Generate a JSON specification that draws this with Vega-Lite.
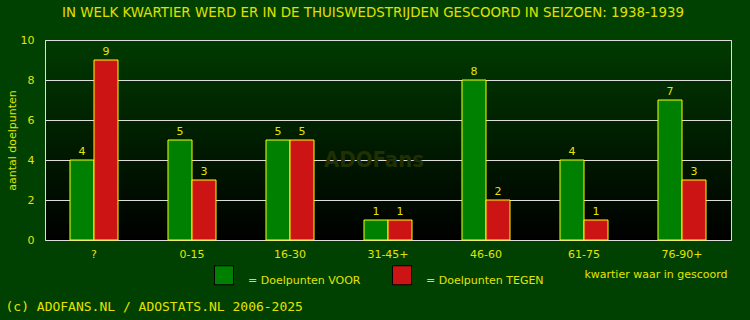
{
  "$schema": "https://vega.github.io/schema/vega-lite/v6.json",
  "width": 686,
  "height": 200,
  "autosize": {"type": "none"},
  "padding": {"left": 45, "top": 40, "right": 19, "bottom": 80},
  "background": "#004000",
  "title": {
    "text": "IN WELK KWARTIER WERD ER IN DE THUISWEDSTRIJDEN GESCOORD IN SEIZOEN: 1938-1939",
    "color": "#e0e000",
    "font": "DejaVu Sans",
    "fontSize": 13.4,
    "fontWeight": "normal",
    "anchor": "middle",
    "dx": -15,
    "offset": 15
  },
  "view": {
    "fill": {
      "gradient": "linear",
      "x1": 0, "y1": 0, "x2": 0, "y2": 1,
      "stops": [
        {"offset": 0, "color": "#003a00"},
        {"offset": 1, "color": "#000000"}
      ]
    },
    "stroke": "#dddddd",
    "strokeWidth": 1
  },
  "datasets": {
    "goals": [
      {"kwartier": "?", "type": "Doelpunten VOOR", "doelpunten": 4},
      {"kwartier": "?", "type": "Doelpunten TEGEN", "doelpunten": 9},
      {"kwartier": "0-15", "type": "Doelpunten VOOR", "doelpunten": 5},
      {"kwartier": "0-15", "type": "Doelpunten TEGEN", "doelpunten": 3},
      {"kwartier": "16-30", "type": "Doelpunten VOOR", "doelpunten": 5},
      {"kwartier": "16-30", "type": "Doelpunten TEGEN", "doelpunten": 5},
      {"kwartier": "31-45+", "type": "Doelpunten VOOR", "doelpunten": 1},
      {"kwartier": "31-45+", "type": "Doelpunten TEGEN", "doelpunten": 1},
      {"kwartier": "46-60", "type": "Doelpunten VOOR", "doelpunten": 8},
      {"kwartier": "46-60", "type": "Doelpunten TEGEN", "doelpunten": 2},
      {"kwartier": "61-75", "type": "Doelpunten VOOR", "doelpunten": 4},
      {"kwartier": "61-75", "type": "Doelpunten TEGEN", "doelpunten": 1},
      {"kwartier": "76-90+", "type": "Doelpunten VOOR", "doelpunten": 7},
      {"kwartier": "76-90+", "type": "Doelpunten TEGEN", "doelpunten": 3}
    ],
    "watermark": [
      {"kwartier": "31-45+", "doelpunten": 4, "label": "ADOFans"}
    ]
  },
  "layer": [
    {
      "data": {"name": "goals"},
      "encoding": {
        "x": {
          "field": "kwartier",
          "type": "nominal",
          "sort": null,
          "scale": {"paddingInner": 0.51, "paddingOuter": 0.255},
          "axis": {
            "labelColor": "#e4e400",
            "labelFont": "DejaVu Sans",
            "labelFontSize": 11,
            "labelAngle": 0,
            "labelPadding": 8,
            "ticks": false,
            "domain": false,
            "grid": false,
            "title": "kwartier waar in gescoord",
            "titleColor": "#e4e400",
            "titleFont": "DejaVu Sans",
            "titleFontSize": 11,
            "titleFontWeight": "normal",
            "titleX": 682,
            "titleY": 37,
            "titleAlign": "right",
            "titleBaseline": "alphabetic"
          }
        },
        "xOffset": {"field": "type", "sort": ["Doelpunten VOOR", "Doelpunten TEGEN"]},
        "y": {
          "field": "doelpunten",
          "type": "quantitative",
          "scale": {"domain": [0, 10]},
          "axis": {
            "values": [0, 2, 4, 6, 8, 10],
            "grid": true,
            "gridColor": "#dddddd",
            "gridWidth": 1,
            "gridOpacity": 1,
            "ticks": false,
            "domain": false,
            "labelColor": "#e4e400",
            "labelFont": "DejaVu Sans",
            "labelFontSize": 11,
            "labelPadding": 11,
            "title": "aantal doelpunten",
            "titleColor": "#e4e400",
            "titleFont": "DejaVu Sans",
            "titleFontSize": 11,
            "titleFontWeight": "normal",
            "titleX": -30,
            "titleY": 100,
            "titleBaseline": "alphabetic",
            "titleAlign": "center"
          }
        }
      },
      "layer": [
        {
          "mark": {"type": "bar", "stroke": "#ffff00", "strokeWidth": 1},
          "encoding": {
            "color": {
              "field": "type",
              "type": "nominal",
              "scale": {
                "domain": ["Doelpunten VOOR", "Doelpunten TEGEN"],
                "range": ["#008000", "#cc1414"]
              },
              "legend": {
                "orient": "none",
                "legendX": 169,
                "legendY": 225,
                "direction": "horizontal",
                "title": null,
                "padding": 0,
                "symbolType": "square",
                "symbolSize": 361,
                "symbolStrokeColor": "#000000",
                "symbolStrokeWidth": 1,
                "symbolOpacity": 1,
                "labelExpr": "'= ' + datum.label",
                "labelColor": "#e4e400",
                "labelFont": "DejaVu Sans",
                "labelFontSize": 11,
                "labelOffset": 14,
                "labelBaseline": "top",
                "columnPadding": 29,
                "labelLimit": 300
              }
            }
          }
        },
        {
          "mark": {
            "type": "text",
            "dy": -5,
            "baseline": "alphabetic",
            "color": "#e4e400",
            "font": "DejaVu Sans",
            "fontSize": 11
          },
          "encoding": {"text": {"field": "doelpunten", "type": "quantitative"}}
        }
      ]
    },
    {
      "data": {"name": "watermark"},
      "mark": {
        "type": "text",
        "font": "DejaVu Sans Condensed",
        "fontWeight": "bold",
        "fontSize": 22,
        "color": "#203000",
        "baseline": "middle",
        "dx": -14
      },
      "encoding": {
        "x": {
          "field": "kwartier",
          "type": "nominal",
          "scale": {"paddingInner": 0.51, "paddingOuter": 0.255},
          "axis": {
            "orient": "top",
            "labels": false,
            "ticks": false,
            "domain": false,
            "grid": false,
            "title": "(c) ADOFANS.NL / ADOSTATS.NL 2006-2025",
            "titleColor": "#e4e400",
            "titleFont": "DejaVu Sans Mono",
            "titleFontSize": 13,
            "titleFontWeight": "normal",
            "titleX": -40,
            "titleY": 270,
            "titleAlign": "left",
            "titleBaseline": "alphabetic",
            "titleAngle": 0
          }
        },
        "y": {
          "field": "doelpunten",
          "type": "quantitative",
          "scale": {"domain": [0, 10]},
          "axis": {
            "values": [0, 2, 4, 6, 8, 10],
            "grid": true,
            "gridColor": "#dddddd",
            "gridWidth": 1,
            "gridOpacity": 1,
            "ticks": false,
            "domain": false,
            "labelColor": "#e4e400",
            "labelFont": "DejaVu Sans",
            "labelFontSize": 11,
            "labelPadding": 11,
            "title": "aantal doelpunten",
            "titleColor": "#e4e400",
            "titleFont": "DejaVu Sans",
            "titleFontSize": 11,
            "titleFontWeight": "normal",
            "titleX": -30,
            "titleY": 100,
            "titleBaseline": "alphabetic",
            "titleAlign": "center"
          }
        },
        "text": {"field": "label", "type": "nominal"}
      }
    }
  ],
  "resolve": {"scale": {"x": "independent"}, "axis": {"x": "independent"}}
}
